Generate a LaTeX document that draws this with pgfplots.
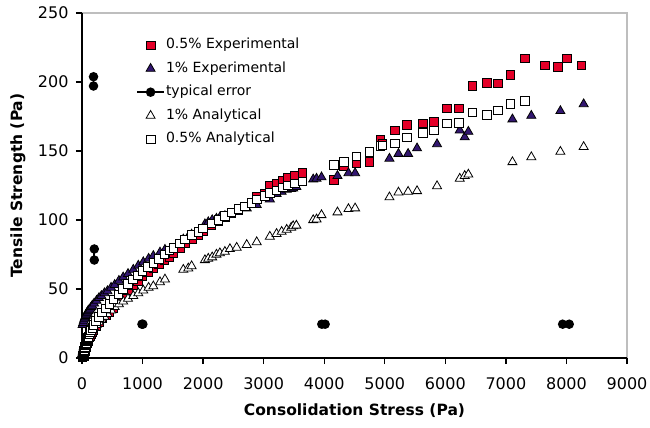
\documentclass[border=0pt]{standalone}
\usepackage{pgfplots}
\pgfplotsset{compat=1.18}
\usepackage{pgfplotstable}
\usepackage{fontspec}
\setmainfont{DejaVu Sans}

\definecolor{expred}{RGB}{228,0,40}
\definecolor{exppurple}{RGB}{50,22,112}
\definecolor{frame}{RGB}{190,190,190}

% 0.5% Experimental
\pgfplotstableread{
x y
30 1.5
35 3
40 4
45 5
50 6
55 7
60 8
65 8.5
70 9
75 10
80 10.5
85 11
90 12
95 12.5
100 13
105 13.5
120 15
135 16
150 17
170 18.5
190 20
230 23
280 26
330 29
390 31
450 33
520 36
600 41
680 45
760 49
840 53
920 56
1000 59
1090 62
1180 65
1270 68
1360 71
1440 73
1507 76
1617 80
1700 83
1810 86
1920 89
2000 92
2140 96
2250 99
2360 102
2470 105
2580 107
2690 110
2800 112
2893 117
3020 119
3102 125
3213 126.5
3322 128.5
3405 131
3515 132
3642 134
4158 129
4323 139
4533 141
4748 142
4930 158
4960 155
5171 165
5369 169
5633 170
5809 171
6028 181
6226 181
6447 197
6688 199.5
6870 199
7074 205
7310 217
7640 212
7855 211
8003 217
8245 212
}\halfexp

% 1% Experimental
\pgfplotstableread{
x y
10 24
20 25.5
30 27
40 28.5
50 29.5
60 30.5
70 31.5
80 32.5
90 33
100 34
110 34.5
125 35
140 36
155 37
170 38
200 39.5
240 41.5
280 43.5
320 45
370 47
420 48.5
480 51
540 53
610 56
680 58.5
760 61
847 64
930 67
1012 69.5
1100 72
1178 74
1288 76.5
1370 78.5
1673 86
1755 88
1810 89.5
2030 97
2085 98.5
2150 100
2220 101
2277 102
2360 103
2443 104
2554 106
2720 108.5
2885 111
3102 115
3213 119
3297 120.5
3380 122
3455 122.5
3487 123
3540 124
3818 129.5
3873 130
3955 131
4219 132
4400 134
4510 134
5077 144.5
5226 148
5385 148
5533 152
5863 155
6238 165
6320 160
6380 164
7108 173
7420 175.6
7900 179
8284 184
}\oneexp

% 1% Analytical
\pgfplotstableread{
x y
5 3
10 4
15 5
20 6
25 7
30 8
35 8.5
40 9.5
45 10
50 10.5
55 11
60 12
65 12.5
70 13
75 13.5
80 14
85 14
90 14.5
95 15
100 15.5
110 16
125 17
140 18
155 19
170 20
200 22
240 24
280 26
320 28
370 30
420 32
480 34.5
540 37
610 39
680 41
760 43
847 45
930 47
1012 49
1100 51
1178 52
1288 55
1370 57
1673 64
1755 65
1810 66.6
2030 71
2085 72
2150 73
2220 75
2277 76
2360 77
2443 79
2554 80
2720 82
2885 84
3102 88
3213 90
3297 91.5
3380 93
3455 94.5
3487 95.6
3540 96
3818 100
3873 100.5
3955 103.6
4219 105.6
4400 108
4510 108.5
5077 116.5
5226 120
5385 120.5
5533 121
5863 124.6
6238 130
6320 132
6380 133
7108 142
7420 145.6
7900 149.5
8284 153
}\oneana

% 0.5% Analytical
\pgfplotstableread{
x y
5 1
10 1.5
15 2
20 3
25 3.5
30 4
35 5
40 6
45 7
50 8
55 9
60 10
65 10.5
70 11
75 12
80 12.5
85 13
90 14
95 14.5
100 15
105 15.5
120 17
135 18.5
150 20
170 22
190 24
230 27
280 30
330 33
390 36
450 39
520 42.5
600 46
680 50
760 53.5
840 57
920 60
1000 63
1090 66
1180 69
1270 72
1360 75
1440 78
1507 80
1617 83
1700 86
1810 89
1920 91.5
2000 94
2140 97.5
2250 100
2360 103
2470 105.5
2580 108
2690 110
2800 112.5
2893 115
3020 117.5
3102 119.5
3213 121.5
3322 123.5
3405 125
3515 126.6
3642 128
4158 140
4323 142
4533 146
4748 149.5
4930 153.6
4960 154
5171 155.6
5369 160
5633 163
5809 165
6028 170
6226 170.5
6447 178
6688 176
6870 179.5
7074 184
7310 186.5
}\halfana

\begin{document}
\begin{tikzpicture}
\begin{axis}[
  scale only axis,
  width=545bp, height=345bp,
  xmin=0, xmax=9000, ymin=0, ymax=250,
  xtick={0,1000,...,9000},
  ytick={0,50,...,250},
  xtick pos=bottom, ytick pos=left,
  tick align=outside,
  major tick length=6bp,
  tick style={black, line width=1.3bp},
  axis line style={draw=none},
  clip=false,
  /pgf/number format/assume math mode=true,
  /pgf/number format/set thousands separator={},
  ticklabel style={font=\fontsize{16bp}{19bp}\selectfont},
  xticklabel style={yshift=-10bp},
  yticklabel style={xshift=-4bp},
  xlabel={Consolidation Stress (Pa)},
  ylabel={Tensile Strength (Pa)},
  label style={font=\fontsize{15.5bp}{18bp}\selectfont\bfseries},
  xlabel style={at={(axis description cs:0.5,-0.1536)}, anchor=center},
  ylabel style={at={(axis description cs:-0.1174,0.5)}, anchor=center},
  legend image code/.code={\draw[mark repeat=2,mark phase=2,#1] plot coordinates {(0bp,0bp) (13.5bp,0bp) (27bp,0bp)};},
  legend style={
    at={(rel axis cs:0,1)}, anchor=north west, xshift=54bp, yshift=-24.5bp,
    draw=none, fill=none, inner sep=0pt,
    font=\fontsize{14bp}{16bp}\selectfont,
    row sep=8.5bp,
    nodes={inner sep=1bp, text height=10bp, text depth=3bp},
    /tikz/every even column/.append style={column sep=4bp},
  },
  legend cell align=left,
]
\addplot[only marks, mark=square*, mark size=4.3bp,
  mark options={fill=expred, draw=black, line width=0.8bp}] table {\halfexp};
\addlegendentry{0.5\% Experimental}
\addplot[only marks, mark=triangle*, mark size=5.2bp,
  mark options={fill=exppurple, draw=black, line width=0.8bp}] table {\oneexp};
\addlegendentry{1\% Experimental}
\addplot[black, line width=1.8bp, mark=*, mark size=3.8bp, unbounded coords=jump]
  coordinates {(190,197.1) (190,203.8) (nan,nan)
               (203,71) (203,79) (nan,nan)
               (990,24.5) (1005,24.5) (nan,nan)
               (3960,24.5) (4015,24.5) (nan,nan)
               (7937,24.5) (8046,24.5)};
\addlegendentry{typical error}
\addplot[only marks, mark=triangle*, mark size=5.2bp,
  mark options={fill=white, draw=black, line width=0.8bp}] table {\oneana};
\addlegendentry{1\% Analytical}
\addplot[only marks, mark=square*, mark size=4.3bp,
  mark options={fill=white, draw=black, line width=0.8bp}] table {\halfana};
\addlegendentry{0.5\% Analytical}
% plot frame: light right/top, dark left/bottom
\draw[frame, line width=1.3bp] (rel axis cs:0,1) -- (rel axis cs:1,1) -- (rel axis cs:1,0);
\draw[black, line width=1.8bp] (rel axis cs:0,1) -- (rel axis cs:0,0) -- (rel axis cs:1,0);
\end{axis}
\pgfresetboundingbox
\path[use as bounding box] ([xshift=-82bp,yshift=-69bp]current axis.south west)
  rectangle ([xshift=23bp,yshift=13bp]current axis.north east);
\end{tikzpicture}
\end{document}
